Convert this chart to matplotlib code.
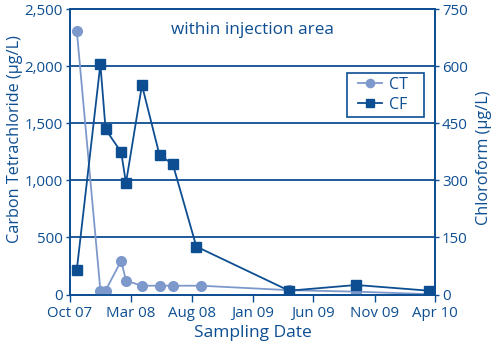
import datetime as dt
import matplotlib
matplotlib.use("Agg")
import matplotlib.pyplot as plt
import matplotlib.dates as mdates
from matplotlib.patches import Rectangle
from matplotlib.ticker import FuncFormatter

plt.rcParams['font.family'] = ['Open Sans', 'DejaVu Sans']

dark = '#0d4e92'
light = '#7d99cc'

# carbon tetrachloride samples (left axis)
ct_dates = [dt.date(2007, 10, 18), dt.date(2007, 12, 16), dt.date(2007, 12, 29),
            dt.date(2008, 2, 6), dt.date(2008, 2, 18), dt.date(2008, 3, 29),
            dt.date(2008, 5, 12), dt.date(2008, 6, 14), dt.date(2008, 8, 23),
            dt.date(2009, 4, 1), dt.date(2009, 9, 16), dt.date(2010, 3, 17)]
ct_vals = [2310, 35, 35, 296, 121, 77, 77, 77, 77, 38, 25, 3]

# chloroform samples (right axis)
cf_dates = [dt.date(2007, 10, 18), dt.date(2007, 12, 16), dt.date(2007, 12, 29),
            dt.date(2008, 2, 6), dt.date(2008, 2, 18), dt.date(2008, 3, 29),
            dt.date(2008, 5, 12), dt.date(2008, 6, 14), dt.date(2008, 8, 12),
            dt.date(2009, 4, 1), dt.date(2009, 9, 16), dt.date(2010, 3, 17)]
cf_vals = [65, 605, 434, 374, 293, 550, 366, 343, 126, 10, 25, 10]

tick_dates = [dt.date(2007, 10, 1), dt.date(2008, 3, 1), dt.date(2008, 8, 1),
              dt.date(2009, 1, 1), dt.date(2009, 6, 1), dt.date(2009, 11, 1),
              dt.date(2010, 4, 1)]

fig = plt.figure(figsize=(5, 3.48), dpi=100)
ax = fig.add_axes([0.14, 0.1537, 0.73, 0.8203])
ax2 = ax.twinx()

ax.set_xlim(dt.date(2007, 10, 1), dt.date(2010, 4, 1))
ax.set_ylim(0, 2500)
ax2.set_ylim(0, 750)

for y in [500, 1000, 1500, 2000]:
    ax.axhline(y, color=dark, lw=1.3, zorder=0)

ln1, = ax.plot(ct_dates, ct_vals, '-o', color=light, lw=1.3, ms=7,
               mec=light, label='CT', zorder=3)
ln2, = ax2.plot(cf_dates, cf_vals, '-s', color=dark, lw=1.3, ms=6.5,
                mec=dark, label='CF', zorder=4)

ax.set_xticks(tick_dates)
ax.xaxis.set_major_formatter(mdates.DateFormatter('%b %y'))
ax.set_yticks([0, 500, 1000, 1500, 2000, 2500])
ax.yaxis.set_major_formatter(FuncFormatter(lambda v, p: f'{int(v):,}'))
ax2.set_yticks([0, 150, 300, 450, 600, 750])

for a in (ax, ax2):
    for s in a.spines.values():
        s.set_color(dark)
        s.set_linewidth(1.3)
    a.tick_params(colors=dark, labelsize=10.8, length=3, width=1, pad=2)
ax.tick_params(axis='x', length=5, pad=3)

ax.set_ylabel('Carbon Tetrachloride (µg/L)', color=dark, fontsize=11.7)
ax.yaxis.set_label_coords(-0.15, 0.546)
ax.yaxis.label.set_va('center')
ax2.set_ylabel('Chloroform (µg/L)', color=dark, fontsize=11.7)
ax2.yaxis.set_label_coords(1.134, 0.48)
ax2.yaxis.label.set_va('center')
ax.set_xlabel('Sampling Date', color=dark, fontsize=12.5, labelpad=3)

ax.text(0.5, 0.925, 'within injection area', transform=ax.transAxes,
        ha='center', va='center', color=dark, fontsize=12.3)

# legend box drawn separately so the padding around the entries can be wider
ax2.add_patch(Rectangle((0.759, 0.622), 0.211, 0.154, transform=ax2.transAxes,
                        fill=True, facecolor='white', edgecolor=dark, lw=1.2,
                        zorder=5))
leg = ax2.legend(handles=[ln1, ln2], loc='center left',
                 bbox_to_anchor=(0.79, 0.699), frameon=False, fontsize=11.5,
                 labelcolor=dark, handlelength=1.5, borderpad=0.0,
                 borderaxespad=0.0, labelspacing=0.25, handletextpad=0.45,
                 markerscale=0.85)
leg.set_zorder(6)

fig.savefig('out.png', dpi=100)
